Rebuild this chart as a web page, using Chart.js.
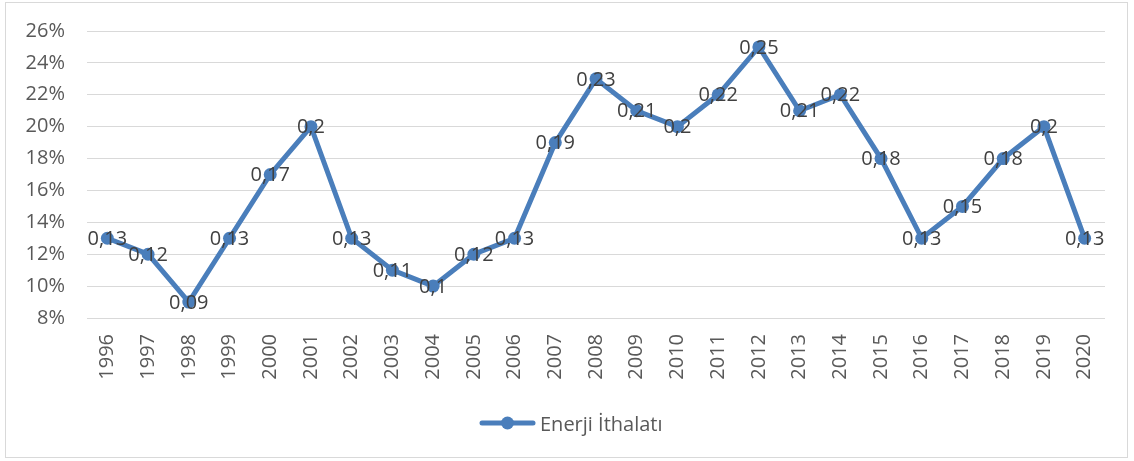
<!DOCTYPE html>
<html>
<head>
<meta charset="utf-8">
<script src="https://cdn.jsdelivr.net/npm/chart.js@4"></script>
<style>
    body { margin: 0; background: #fff; font-family: 'Open Sans', sans-serif; }
    #box {
        position: absolute; left: 5px; top: 2px; width: 1123px; height: 456px;
        box-sizing: border-box; border: 1px solid #d9d9d9;
    }
    #box canvas { position: absolute; left: 0; top: 0; }
    #legend {
        position: absolute; left: 473px; top: 405px; height: 30px;
        display: flex; align-items: center; color: #595959; font-size: 20px;
    }
    #legend svg { margin-right: 4px; }
</style>
</head>
<body>
<div id="box">
    <canvas id="chart" width="1121" height="454"></canvas>
    <div id="legend">
        <svg width="57" height="16"><line x1="3" y1="8" x2="54" y2="8" stroke="#4a7ebb" stroke-width="5" stroke-linecap="round"/><circle cx="28.5" cy="8" r="6.5" fill="#4a7ebb"/></svg>
        <span>Enerji İthalatı</span>
    </div>
</div>
<script>
const years = ['1996', '1997', '1998', '1999', '2000', '2001', '2002', '2003', '2004', '2005',
    '2006', '2007', '2008', '2009', '2010', '2011', '2012', '2013', '2014', '2015',
    '2016', '2017', '2018', '2019', '2020'];
const enerjiIthalati = [0.13, 0.12, 0.09, 0.13, 0.17, 0.2, 0.13, 0.11, 0.1, 0.12,
    0.13, 0.19, 0.23, 0.21, 0.2, 0.22, 0.25, 0.21, 0.22, 0.18,
    0.13, 0.15, 0.18, 0.2, 0.13];
const yMin = 0.08;
const yMax = 0.26;
const yStep = 0.02;

const lineColor = '#4a7ebb';
const fontSize = 20;

// value labels drawn on top of each point, comma as decimal separator
const pointLabels = {
    id: 'pointLabels',
    afterDatasetsDraw(chart) {
        const ctx = chart.ctx;
        const meta = chart.getDatasetMeta(0);
        ctx.save();
        ctx.font = fontSize + 'px "Open Sans"';
        ctx.fillStyle = '#404040';
        ctx.textAlign = 'center';
        ctx.textBaseline = 'middle';
        meta.data.forEach((pt, i) => {
            const txt = String(enerjiIthalati[i]).replace('.', ',');
            ctx.fillText(txt, pt.x, pt.y + 1);
        });
        ctx.restore();
    }
};

new Chart(document.getElementById('chart'), {
    type: 'line',
    data: {
        labels: years,
        datasets: [{
            label: 'Enerji İthalatı',
            data: enerjiIthalati,
            borderColor: lineColor,
            backgroundColor: lineColor,
            borderWidth: 5,
            pointRadius: 6.5,
            pointBackgroundColor: lineColor,
            pointBorderColor: lineColor,
            pointBorderWidth: 0,
            tension: 0
        }]
    },
    plugins: [pointLabels],
    options: {
        responsive: false,
        animation: false,
        layout: { padding: { top: 28, right: 22, bottom: 0, left: 0 } },
        plugins: {
            legend: { display: false },
            tooltip: { enabled: false }
        },
        scales: {
            x: {
                offset: true,
                grid: { display: false, drawTicks: false },
                border: { display: false },
                ticks: {
                    color: '#595959',
                    font: { family: 'Open Sans', size: fontSize },
                    minRotation: 90,
                    maxRotation: 90,
                    padding: 16,
                    autoSkip: false
                },
                afterFit(scale) {
                    scale.height = 139;
                    scale.paddingLeft = 0;
                    scale.paddingRight = 0;
                }
            },
            y: {
                min: yMin,
                max: yMax,
                grid: { color: '#d9d9d9', lineWidth: 1, drawTicks: false },
                border: { display: false },
                ticks: {
                    stepSize: yStep,
                    color: '#595959',
                    font: { family: 'Open Sans', size: fontSize },
                    padding: 22,
                    callback: v => Math.round(v * 100) + '%'
                },
                afterFit(scale) {
                    scale.width = 81;
                    scale.paddingTop = 0;
                    scale.paddingBottom = 0;
                }
            }
        }
    }
});
</script>
</body>
</html>
